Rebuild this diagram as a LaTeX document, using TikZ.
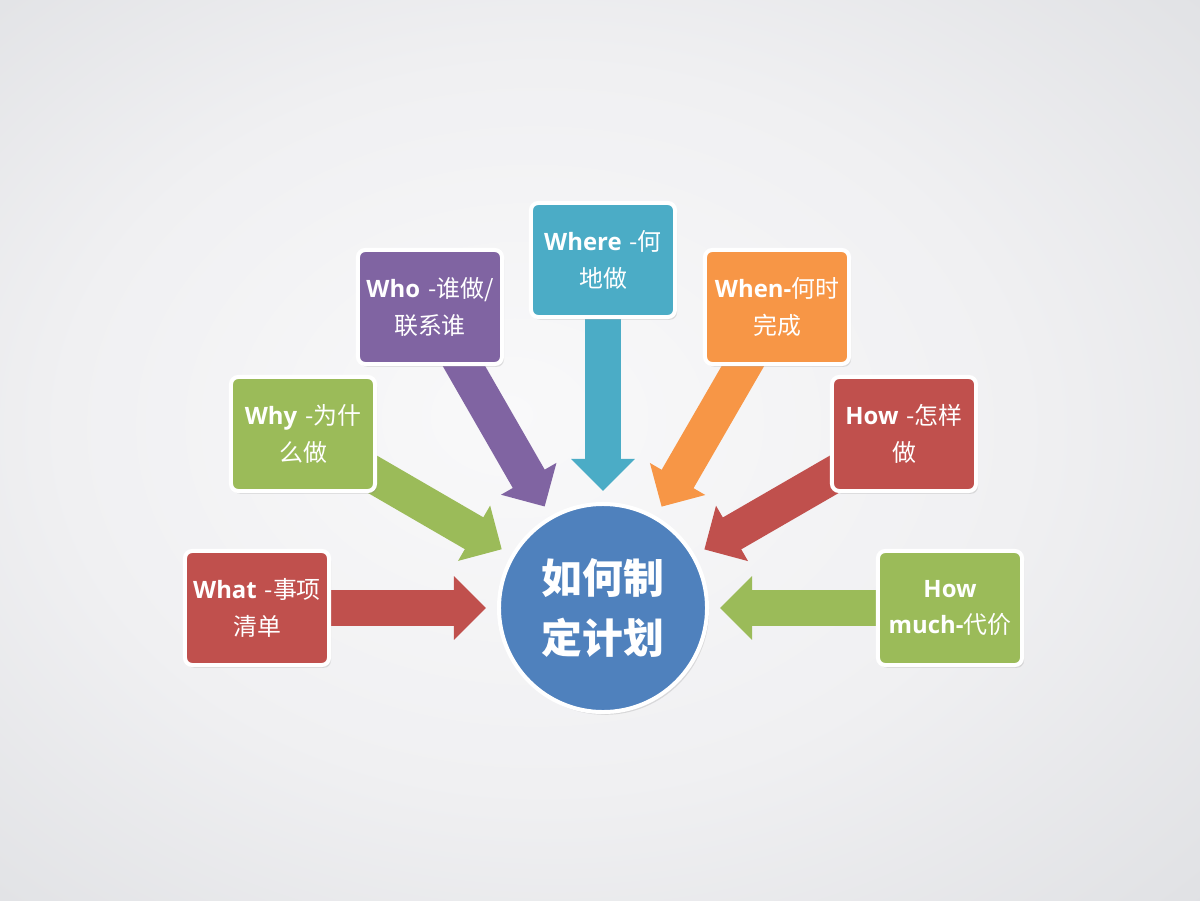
\documentclass[tikz,border=0pt]{standalone}
\usepackage{fontspec}
\setmainfont{Open Sans}
\newfontfamily\zh{Noto Sans CJK SC}
\usetikzlibrary{arrows.meta, shadows}

\definecolor{cRed}{HTML}{C0504D}
\definecolor{cGreen}{HTML}{9BBB59}
\definecolor{cPurple}{HTML}{8064A2}
\definecolor{cTeal}{HTML}{4BACC6}
\definecolor{cOrange}{HTML}{F79646}
\definecolor{cBlue}{HTML}{4F81BD}
\definecolor{bgA}{HTML}{F9F9FA}
\definecolor{bgB}{HTML}{F0F0F2}
\definecolor{bgC}{HTML}{E1E2E5}
\definecolor{bgD}{HTML}{CDCFD4}

\pgfdeclareradialshading{vignette}{\pgfpoint{-4bp}{2bp}}{%
  color(0bp)=(bgA); color(20bp)=(bgB); color(36bp)=(bgC); color(50bp)=(bgD)}

\pgfdeclarelayer{bg}
\pgfdeclarelayer{back}
\pgfsetlayers{bg,back,main}

\newcommand{\lat}[1]{{\rmfamily\bfseries #1}}

\begin{document}
\begin{tikzpicture}[x=0.025cm, y=-0.025cm,
  task/.style={draw=white, line width=0.1cm, rounded corners=0.18cm,
    minimum width=3.6cm, minimum height=2.85cm, text width=3.4cm, inner sep=0.1cm,
    align=center, text=white, font=\zh\fontsize{17}{26}\selectfont,
    drop shadow={opacity=0.22, shadow xshift=0.05cm, shadow yshift=-0.07cm}},
  hub/.style={circle, draw=white, line width=0.1cm, fill=cBlue, minimum size=5.2cm,
    align=center, text=white, font=\zh\bfseries\fontsize{29}{43}\selectfont,
    drop shadow={opacity=0.22, shadow xshift=0.05cm, shadow yshift=-0.07cm}},
  link/.style={line width=0.92cm, -{Triangle[width=1.55cm, length=0.8cm]},
    shorten >=0.275cm}]

\useasboundingbox (0,0) rectangle (1200,900);

% background
\begin{pgfonlayer}{bg}
\fill[shading=vignette] (0,0) rectangle (1200,900);
\end{pgfonlayer}

\node[hub] (hub) at (603,608) {如何制\\定计划};

\node[task, fill=cRed] (what) at (257,608) {\lat{What} -事项\\清单};
\node[task, fill=cGreen] (why) at (303,434) {\lat{Why} -为什\\么做};
\node[task, fill=cPurple] (who) at (430,307) {\lat{Who} -谁做/\\联系谁};
\node[task, fill=cTeal] (where) at (603,260) {\lat{Where} -何\\地做};
\node[task, fill=cOrange] (when) at (777,307) {\lat{When-}何时\\完成};
\node[task, fill=cRed] (how) at (904,434) {\lat{How} -怎样\\做};
\node[task, fill=cGreen] (howmuch) at (950,608) {\lat{How}\\\lat{much-}代价};

% block arrows towards the hub
\begin{pgfonlayer}{back}
\path
(what.center) edge[link, draw=cRed] (hub)
(why.center) edge[link, draw=cGreen] (hub)
(who.center) edge[link, draw=cPurple] (hub)
(where.center) edge[link, draw=cTeal] (hub)
(when.center) edge[link, draw=cOrange] (hub)
(how.center) edge[link, draw=cRed] (hub)
(howmuch.center) edge[link, draw=cGreen] (hub);
\end{pgfonlayer}

\end{tikzpicture}
\end{document}
